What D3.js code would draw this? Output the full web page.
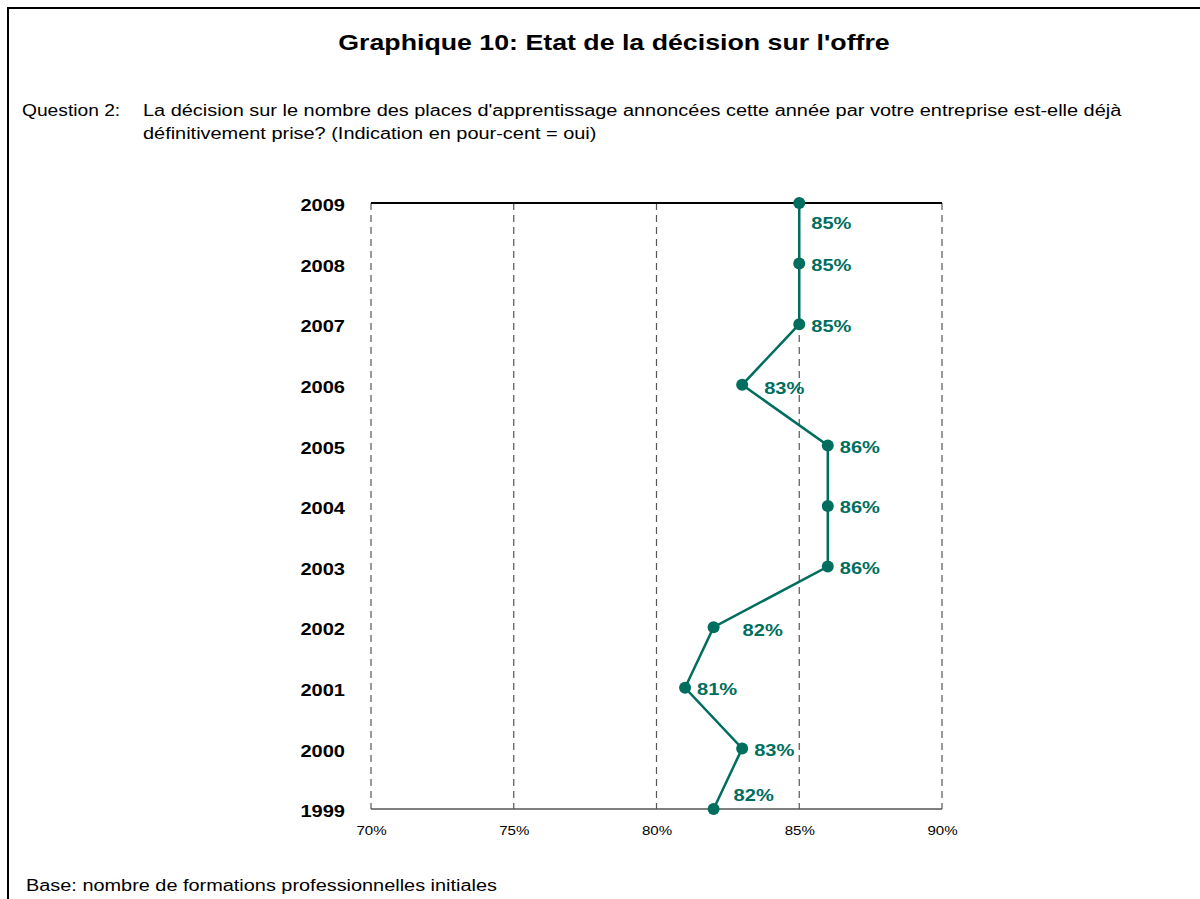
<!DOCTYPE html>
<html><head><meta charset="utf-8">
<script src="https://cdn.jsdelivr.net/npm/d3@7"></script>
<style>body{margin:0;background:#fff}svg{display:block;font-family:"Liberation Sans",Arial,sans-serif}</style>
</head><body><svg id="c" width="1200" height="899"></svg>
<script>
const years = ["2009","2008","2007","2006","2005","2004","2003","2002","2001","2000","1999"];
const values = [85,85,85,83,86,86,86,82,81,83,82];
const xTicks = [70,75,80,85,90];
const title = "Graphique 10: Etat de la décision sur l'offre";
const questionLabel = "Question 2:";
const questionLines = ["La décision sur le nombre des places d'apprentissage annoncées cette année par votre entreprise est-elle déjà","définitivement prise? (Indication en pour-cent = oui)"];
const baseNote = "Base: nombre de formations professionnelles initiales";

// label placement (style)
const labelOffset = {"2009":[12,20],"2006":[22,3],"2002":[29,2],"1999":[20,-14]};

function stretch(sel, f){
  sel.each(function(){
    const w = this.getComputedTextLength();
    d3.select(this).attr("textLength", w*f).attr("lengthAdjust","spacingAndGlyphs");
  });
}

const svg = d3.select("#c");
const teal = "#006E5E";
svg.append("rect").attr("x",8).attr("y",8).attr("width",1300).attr("height",1000)
  .attr("fill","none").attr("stroke","#000").attr("stroke-width",2);

stretch(svg.append("text").attr("x",614).attr("y",50).attr("text-anchor","middle")
  .attr("font-size",22).attr("font-weight","bold").text(title), 1.215);
stretch(svg.append("text").attr("x",22).attr("y",116).attr("font-size",16).text(questionLabel), 1.2);
questionLines.forEach((l,i)=>stretch(svg.append("text").attr("x",143).attr("y",116+23*i).attr("font-size",16).text(l), 1.245));
stretch(svg.append("text").attr("x",26).attr("y",891).attr("font-size",16).text(baseNote), 1.243);

const x = d3.scaleLinear().domain([70,90]).range([371,942]);
const y = d3.scalePoint().domain(years).range([203,809]);

// gridlines
svg.append("g").selectAll("line").data(xTicks).join("line")
  .attr("x1",d=>x(d)).attr("x2",d=>x(d)).attr("y1",203).attr("y2",809)
  .attr("stroke","#555").attr("stroke-width",1.2).attr("stroke-dasharray","7,5");
svg.append("line").attr("x1",371).attr("x2",942).attr("y1",203).attr("y2",203).attr("stroke","#000").attr("stroke-width",2);
svg.append("line").attr("x1",371).attr("x2",942).attr("y1",809).attr("y2",809).attr("stroke","#555").attr("stroke-width",1.5);

// x axis
const xa = svg.append("g").attr("transform","translate(0,809)")
  .call(d3.axisBottom(x).tickValues(xTicks).tickFormat(d=>d+"%").tickSize(0).tickPadding(17));
xa.select(".domain").remove();
xa.selectAll("text").attr("font-size",13).attr("font-family","Liberation Sans, Arial, sans-serif").attr("fill","#000");
stretch(xa.selectAll("text"), 1.16);

// y axis
const ya = svg.append("g").attr("transform","translate(345,0)")
  .call(d3.axisLeft(y).tickSize(0).tickPadding(0));
ya.select(".domain").remove();
ya.selectAll("text").attr("font-size",17).attr("font-weight","bold").attr("dy","0.45em")
  .attr("font-family","Liberation Sans, Arial, sans-serif").attr("fill","#000");
stretch(ya.selectAll("text"), 1.18);

const data = years.map((yr,i)=>({yr,v:values[i]}));
svg.append("path").datum(data)
  .attr("d",d3.line().x(d=>x(d.v)).y(d=>y(d.yr)))
  .attr("fill","none").attr("stroke",teal).attr("stroke-width",2.5);
svg.append("g").selectAll("circle").data(data).join("circle")
  .attr("cx",d=>x(d.v)).attr("cy",d=>y(d.yr)).attr("r",6).attr("fill",teal);
const lab = svg.append("g").selectAll("text").data(data).join("text")
  .attr("x",d=>x(d.v)+(labelOffset[d.yr]?labelOffset[d.yr][0]:12))
  .attr("y",d=>y(d.yr)+(labelOffset[d.yr]?labelOffset[d.yr][1]:1))
  .attr("dy","0.38em").attr("font-size",17).attr("font-weight","bold").attr("fill",teal)
  .text(d=>d.v+"%");
stretch(lab, 1.18);
</script></body></html>
